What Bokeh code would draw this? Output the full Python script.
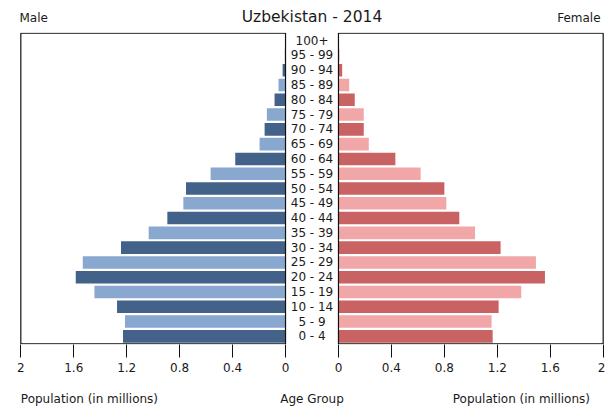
from bokeh.plotting import figure
from bokeh.layouts import column
from bokeh.models import Range1d, FixedTicker, CustomJSTickFormatter, ColumnDataSource
from bokeh.core.properties import value
from bokeh.embed import file_html
from bokeh.resources import INLINE

# ---- data ----
age_groups = ["0 - 4", "5 - 9", "10 - 14", "15 - 19", "20 - 24", "25 - 29", "30 - 34",
              "35 - 39", "40 - 44", "45 - 49", "50 - 54", "55 - 59", "60 - 64", "65 - 69",
              "70 - 74", "75 - 79", "80 - 84", "85 - 89", "90 - 94", "95 - 99", "100+"]
male = [1.228, 1.213, 1.273, 1.444, 1.585, 1.532, 1.243, 1.034, 0.893, 0.772, 0.752,
        0.566, 0.380, 0.196, 0.158, 0.141, 0.083, 0.053, 0.022, 0.006, 0.002]
female = [1.165, 1.157, 1.210, 1.381, 1.560, 1.492, 1.225, 1.032, 0.913, 0.815, 0.800,
          0.621, 0.430, 0.229, 0.191, 0.191, 0.123, 0.081, 0.028, 0.008, 0.004]
tick_values = [0, 0.4, 0.8, 1.2, 1.6, 2]
title_text = "Uzbekistan - 2014"
side_labels = ["Male", "Female"]
axis_titles = ["Population (in millions)", "Age Group", "Population (in millions)"]

# ---- styling / layout ----
GAP = 0.2  # half gap between the two panels (axis units)
FONT = value("DejaVu Sans")
TXT = "#1a1a1a"
W = 605
XR = (-2.21, 2.21)


def strip(height):
    f = figure(width=W, height=height, output_backend="svg", toolbar_location=None,
               x_range=Range1d(*XR), y_range=Range1d(0, height),
               x_axis_location=None, y_axis_location=None,
               min_border_left=19, min_border_right=1, min_border_top=0, min_border_bottom=0)
    f.outline_line_color = None
    f.grid.visible = False
    return f


# top strip: title and side labels
top = strip(30)
top.text(x=[0], y=[14], text=[title_text], text_align="center", text_baseline="middle",
         text_font=FONT, text_font_size="15.5px", text_color=TXT)
top.text(x=[-2.21, 2.18], y=[13, 13], text=side_labels, text_align=["left", "right"],
         text_baseline="middle", text_font=FONT, text_font_size="12px", text_color=TXT)

# main plot
male_cols = ["#436289" if i % 2 == 0 else "#88a8d0" for i in range(len(age_groups))]
female_cols = ["#c96262" if i % 2 == 0 else "#f1a7a7" for i in range(len(age_groups))]
ys = list(range(len(age_groups)))

src_m = ColumnDataSource(dict(y=ys, left=[-GAP - v for v in male], right=[-GAP] * len(ys), c=male_cols))
src_f = ColumnDataSource(dict(y=ys, left=[GAP] * len(ys), right=[GAP + v for v in female], c=female_cols))

p = figure(width=W, height=347, output_backend="svg", toolbar_location=None,
           x_range=Range1d(*XR), y_range=Range1d(-0.55, 20.55),
           y_axis_location=None, min_border_left=19, min_border_right=1,
           min_border_top=2, min_border_bottom=33)
p.outline_line_color = None
p.grid.visible = False

p.hbar(y="y", left="left", right="right", height=0.85, fill_color="c", line_color=None, source=src_m)
p.hbar(y="y", left="left", right="right", height=0.85, fill_color="c", line_color=None, source=src_f)

# panel frames
p.quad(left=[-2.0 - GAP, GAP], right=[-GAP, 2.0 + GAP], bottom=[-0.5, -0.5], top=[20.5, 20.5],
       fill_color=None, line_color="#111111", line_width=1.2)

# age group labels
p.text(x=[0] * len(ys), y=ys, text=age_groups, text_align="center", text_baseline="middle",
       text_font=FONT, text_font_size="12px", text_color=TXT)

ticks = [-GAP - t for t in tick_values] + [GAP + t for t in tick_values]
ax = p.xaxis[0]
ax.ticker = FixedTicker(ticks=ticks)
ax.formatter = CustomJSTickFormatter(code="const v = Math.round((Math.abs(tick) - 0.2) * 10) / 10; return v.toString();")
ax.axis_line_color = None
ax.major_tick_line_color = "#111111"
ax.major_tick_out = 13
ax.major_tick_in = 0
ax.minor_tick_line_color = None
ax.major_label_text_font = "DejaVu Sans"
ax.major_label_text_font_size = "12px"
ax.major_label_text_color = TXT
ax.major_label_standoff = 5

# bottom strip: axis titles
bot = strip(35)
bot.text(x=[-2.2, 0, 2.10], y=[14, 14, 14], text=axis_titles,
         text_align=["left", "center", "right"], text_baseline="middle",
         text_font=FONT, text_font_size="12px", text_color=TXT)

layout = column(top, p, bot, spacing=0)
open("out.html", "w").write(file_html(layout, INLINE))
